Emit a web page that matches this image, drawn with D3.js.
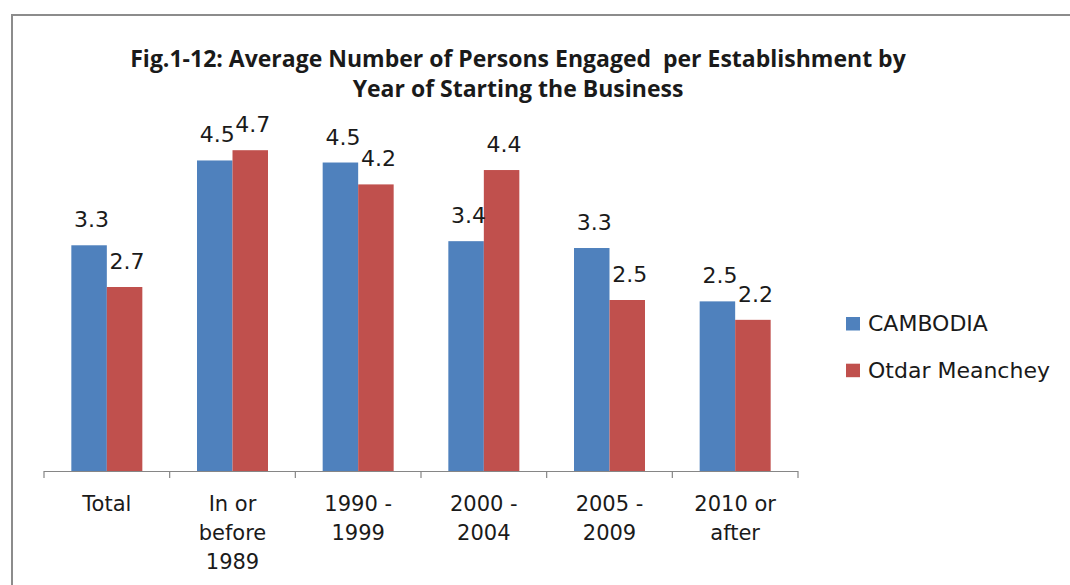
<!DOCTYPE html>
<html>
<head>
<meta charset="utf-8">
<script src="https://cdn.jsdelivr.net/npm/d3@7"></script>
<style>
html, body { margin: 0; padding: 0; background: #fff; }
svg { display: block; }
</style>
</head>
<body>
<svg id="chart" width="1070" height="585"></svg>
<script>
const categories = ["Total", "In or before 1989", "1990 - 1999", "2000 - 2004", "2005 - 2009", "2010 or after"];
const categoryLines = [["Total"], ["In or", "before", "1989"], ["1990 -", "1999"], ["2000 -", "2004"], ["2005 -", "2009"], ["2010 or", "after"]];
const seriesNames = ["CAMBODIA", "Otdar Meanchey"];
const cambodia = [3.30, 4.54, 4.51, 3.36, 3.26, 2.48];
const otdarMeanchey = [2.69, 4.69, 4.19, 4.40, 2.50, 2.21];
const seriesColors = ["#4F81BD", "#C0504D"];
const titleLines = ["Fig.1-12: Average Number of Persons Engaged  per Establishment by", "Year of Starting the Business"];

const svg = d3.select("#chart");
const values = [cambodia, otdarMeanchey];

// chart border
svg.append("rect")
  .attr("x", 12).attr("y", 15)
  .attr("width", 1100).attr("height", 620)
  .attr("fill", "#fff").attr("stroke", "#8c8c8c").attr("stroke-width", 2);

const baseY = 471;
const y = d3.scaleLinear().domain([0, 5]).range([baseY, baseY - 5 * 68.4]);
const x0 = d3.scaleBand().domain(categories).range([44, 798]).padding(0);
const x1 = d3.scaleBand().domain(seriesNames).range([0, x0.bandwidth()]).paddingInner(0).paddingOuter(0.77);

// title
const title = svg.append("text")
  .attr("text-anchor", "middle")
  .attr("font-family", "'Open Sans', sans-serif")
  .attr("font-weight", "bold")
  .attr("font-size", 23)
  .attr("fill", "#1a1a1a")
  .attr("xml:space", "preserve");
titleLines.forEach((t, i) => {
  title.append("tspan").attr("x", 518).attr("y", 67 + i * 30).text(t);
});

// bars
const groups = svg.append("g").selectAll("g")
  .data(categories)
  .join("g")
  .attr("transform", d => `translate(${x0(d)},0)`);

groups.selectAll("rect")
  .data((d, i) => seriesNames.map((s, j) => ({ s, v: values[j][i], j })))
  .join("rect")
  .attr("x", d => x1(d.s))
  .attr("y", d => y(d.v))
  .attr("width", x1.bandwidth())
  .attr("height", d => baseY - y(d.v))
  .attr("fill", d => seriesColors[d.j]);

groups.selectAll("text.val")
  .data((d, i) => seriesNames.map((s, j) => ({ s, v: values[j][i], j })))
  .join("text")
  .attr("class", "val")
  .attr("x", d => x1(d.s) + x1.bandwidth() / 2 + 2.5)
  .attr("y", d => y(d.v) - 18)
  .attr("text-anchor", "middle")
  .attr("font-family", "'DejaVu Sans', sans-serif")
  .attr("font-size", 22)
  .attr("fill", "#1a1a1a")
  .text(d => d3.format(".1f")(d.v));

// x axis
const axisG = svg.append("g");
axisG.append("line")
  .attr("x1", x0.range()[0]).attr("x2", x0.range()[1])
  .attr("y1", baseY + 0.5).attr("y2", baseY + 0.5)
  .attr("stroke", "#868686").attr("stroke-width", 1.2);
const bounds = categories.map(c => x0(c)).concat([x0.range()[1]]);
axisG.selectAll("line.tick")
  .data(bounds)
  .join("line")
  .attr("class", "tick")
  .attr("x1", d => d).attr("x2", d => d)
  .attr("y1", baseY).attr("y2", baseY + 7)
  .attr("stroke", "#868686").attr("stroke-width", 1.2);

axisG.selectAll("text.cat")
  .data(categories)
  .join("text")
  .attr("class", "cat")
  .attr("text-anchor", "middle")
  .attr("font-family", "'DejaVu Sans', sans-serif")
  .attr("font-size", 21)
  .attr("fill", "#1a1a1a")
  .each(function(d, i) {
    const t = d3.select(this);
    categoryLines[i].forEach((line, k) => {
      t.append("tspan")
        .attr("x", x0(d) + x0.bandwidth() / 2)
        .attr("y", 510.7 + k * 29)
        .text(line);
    });
  });

// legend
const legend = svg.append("g").selectAll("g")
  .data(seriesNames)
  .join("g")
  .attr("transform", (d, i) => `translate(846,${317 + i * 46.7})`);
legend.append("rect")
  .attr("width", 14).attr("height", 13.5)
  .attr("fill", (d, i) => seriesColors[i]);
legend.append("text")
  .attr("x", 22).attr("y", 14)
  .attr("font-family", "'DejaVu Sans', sans-serif")
  .attr("font-size", 22)
  .attr("fill", "#1a1a1a")
  .text(d => d);
</script>
</body>
</html>
